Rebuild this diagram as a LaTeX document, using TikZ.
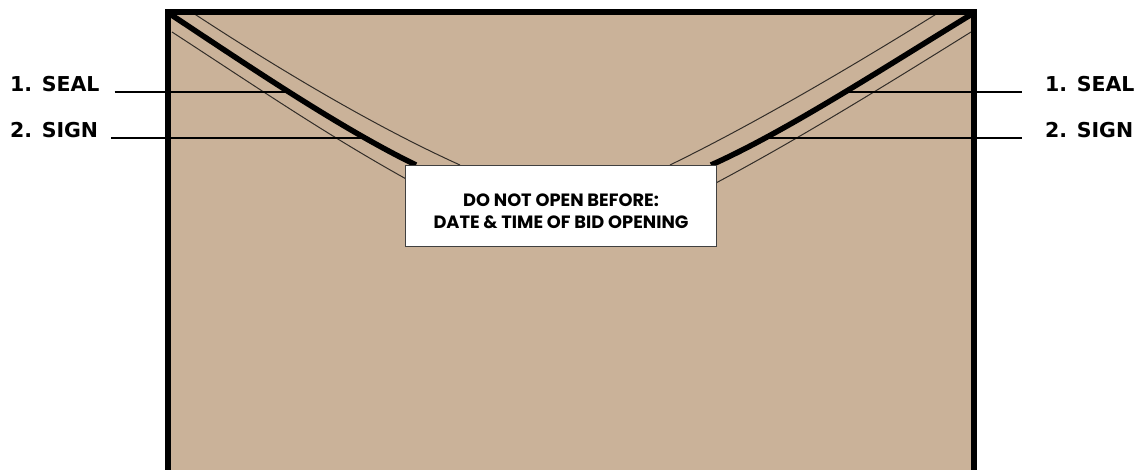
\documentclass[tikz,border=0pt]{standalone}
\usepackage{fontspec}
\newfontfamily\lblfont{DejaVu Sans}
\newfontfamily\boxfont{Poppins}
\definecolor{envtan}{RGB}{202,178,153}
\definecolor{thinline}{RGB}{50,45,40}
\tikzset{
  flapthick/.style={line width=5.5pt, line cap=butt},
  flapthin/.style={line width=1pt, draw=thinline},
  lblline/.style={line width=2.8pt},
  lbltext/.style={inner sep=0pt, font=\lblfont\bfseries\fontsize{20.5}{24}\selectfont},
  notebox/.style={draw=black!75, line width=0.8pt, fill=white, minimum width=311pt, minimum height=81pt, inner sep=0pt},
  notetext/.style={inner sep=0pt, align=center, font=\boxfont\bfseries\fontsize{17.8}{22}\selectfont}
}
\begin{document}
\begin{tikzpicture}[x=1pt,y=-1pt]
\useasboundingbox (0,0) rectangle (1148,470);
\begin{scope}
\clip (0,0) rectangle (1148,470);
% envelope body
\fill[envtan] (168,12) rectangle (974,480);
% flap thin lines
\draw[flapthin] (193,13) .. controls (283,72) and (378,128) .. (460,165);
\draw[flapthin] (172,32) .. controls (252,84) and (325,134) .. (408,180);
\draw[flapthin] (938,13) .. controls (848,69) and (752,125) .. (670,165);
\draw[flapthin] (971,32) .. controls (886,85) and (797,140) .. (714,184);
% flap thick lines
\draw[flapthick] (170,14) .. controls (250,67) and (340,128) .. (416,165);
\draw[flapthick] (972,14) .. controls (882,69) and (785,132) .. (711,165);
% envelope border
\draw[line width=6pt, line cap=butt] (168,480) -- (168,12) -- (974,12) -- (974,480);
\end{scope}
% label box
\node[notebox] (note) at (561,205.5) {};
\node[notetext] (notetxt) at ([yshift=-5.5pt]note.center) {DO NOT OPEN BEFORE:\\DATE \& TIME OF BID OPENING};
% labels
\node[lbltext, anchor=base west] (sealL) at (10,92) {1. SEAL};
\node[lbltext, anchor=base west] (signL) at (10,138) {2. SIGN};
\node[lbltext, anchor=base west] (sealR) at (1045,92) {1. SEAL};
\node[lbltext, anchor=base west] (signR) at (1045,138) {2. SIGN};
\coordinate (pSealL) at (289,92);
\coordinate (pSignL) at (366,138);
\coordinate (pSealR) at (845,92);
\coordinate (pSignR) at (769,138);
\draw[lblline] ([xshift=15pt]sealL.base east) -- (pSealL);
\draw[lblline] ([xshift=13pt]signL.base east) -- (pSignL);
\draw[lblline] (pSealR) -- ([xshift=-23pt]sealR.base west);
\draw[lblline] (pSignR) -- ([xshift=-23pt]signR.base west);
\end{tikzpicture}
\end{document}
